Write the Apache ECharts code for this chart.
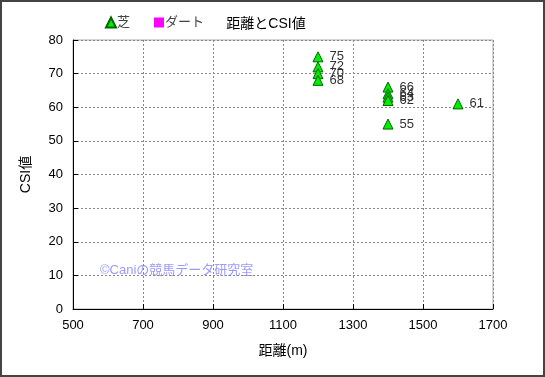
<!DOCTYPE html>
<html><head><meta charset="utf-8">
<script src="https://cdn.jsdelivr.net/npm/echarts@6/dist/echarts.min.js"></script>
<style>html,body{margin:0;padding:0;background:#fff}#c{width:545px;height:377px;box-sizing:border-box;border:2px solid #444}</style>
</head><body><div id="c"></div>
<script>
const title = '距離とCSI値';
const xName = '距離(m)';
const yName = 'CSI値';
const turfDist = [1200, 1200, 1200, 1200, 1400, 1400, 1400, 1400, 1400, 1600];
const turfCSI  = [75, 72, 70, 68, 66, 64, 63, 62, 55, 61];
const dirtDist = [];
const dirtCSI  = [];
const watermark = '©Caniの競馬データ研究室';
const font = '"Liberation Sans", "Noto Sans CJK JP", sans-serif';

const chart = echarts.init(document.getElementById('c'));
chart.setOption({
  animation: false,
  textStyle: {fontFamily: font},
  title: {text: title, left: 259, top: 10, textAlign: 'center',
    textStyle: {fontSize: 14, fontWeight: 'normal', color: '#000', fontFamily: font}},
  legend: {left: 98, top: 9, itemGap: 24, itemWidth: 10, itemHeight: 10,
    textStyle: {fontSize: 13, color: '#444', padding: [0,0,0,-4]},
    data: [{name: '芝', icon: 'triangle'}, {name: 'ダート', icon: 'rect'}]},
  grid: {left: 71, right: 50, top: 38, bottom: 66, show: true, borderColor: '#aaa', borderWidth: 1},
  xAxis: {type: 'value', min: 500, max: 1700, interval: 200,
    name: xName, nameLocation: 'middle', nameGap: 35,
    nameTextStyle: {fontSize: 14, color: '#000'},
    axisLine: {show: true, onZero: false, lineStyle: {color: '#000'}},
    axisTick: {show: true, inside: true, length: 5, lineStyle: {color: '#000'}},
    axisLabel: {fontSize: 13, color: '#000', margin: 10, formatter: v => String(v)},
    splitLine: {show: true, lineStyle: {color: '#888', type: [2,2]}}},
  yAxis: {type: 'value', min: 0, max: 80, interval: 10,
    name: yName, nameLocation: 'middle', nameGap: 40, nameRotate: 90,
    nameTextStyle: {fontSize: 14, color: '#000'},
    axisLine: {show: true, onZero: false, lineStyle: {color: '#000'}},
    axisTick: {show: true, inside: true, length: 5, lineStyle: {color: '#000'}},
    axisLabel: {fontSize: 13, color: '#000', margin: 10},
    splitLine: {show: true, lineStyle: {color: '#888', type: [2,2]}}},
  graphic: [{type: 'text', left: 98, top: 262,
    style: {text: watermark, fill: '#9a9aff', font: '13px ' + font}}],
  series: [
    {name: '芝', type: 'scatter', symbol: 'triangle', symbolSize: 10,
      itemStyle: {color: '#00ee00', borderColor: '#006600', borderWidth: 1, opacity: 1},
      label: {show: true, position: 'right', distance: 6, fontSize: 13, color: '#333',
        formatter: p => p.value[1]},
      data: turfDist.map((d, i) => [d, turfCSI[i]])},
    {name: 'ダート', type: 'scatter', symbol: 'rect', symbolSize: 9,
      itemStyle: {color: '#ff00ff', opacity: 1},
      data: dirtDist.map((d, i) => [d, dirtCSI[i]])}
  ]
});
</script></body></html>
